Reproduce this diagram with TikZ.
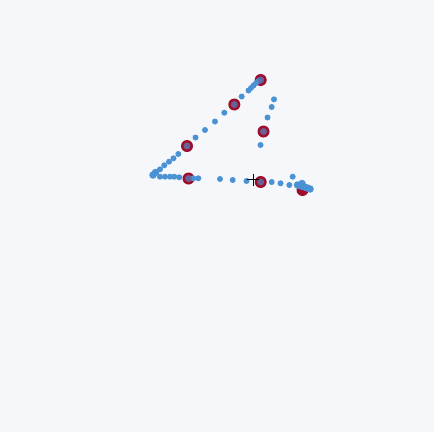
\documentclass[tikz,border=0pt]{standalone}
\usetikzlibrary{positioning}
\definecolor{bgpaper}{RGB}{245,247,251}
\definecolor{dotblue}{RGB}{74,146,212}
\definecolor{markred}{RGB}{158,14,44}
\tikzset{
  dot/.style={
    circle,
    fill=dotblue,
    inner sep=0pt,
    minimum size=6pt
  },
  blobdot/.style={dot, minimum size=7.5pt},
  redmark/.style={
    circle,
    fill=markred,
    inner sep=0pt,
    minimum size=12pt
  },
  markcore/.style={circle, fill=dotblue!75!markred, fill opacity=0.85, inner sep=0pt, minimum size=7pt},
  cursor/.style={black, line width=0.7pt}
}

\begin{document}
\begin{tikzpicture}[x=1pt, y=-1pt]

  \useasboundingbox[fill=bgpaper] (0,0) rectangle (434,432);

  % -------------------------------------------------------------------
  % red marks
  % -------------------------------------------------------------------
  \node[redmark] (r1) at (260.7,80) {};
  \node[redmark] (r2) at (234.3,104.5) {};
  \node[redmark] (r3) at (187,146) {};
  \node[redmark] (r4) at (263.5,131.5) {};
  \node[redmark] (r5) at (188.5,178.5) {};
  \node[redmark] (r6) at (260.7,182) {};
  \node[redmark] (r7) at (302.5,190) {};

  % -------------------------------------------------------------------
  % diagonal stroke
  % -------------------------------------------------------------------
  \node[blobdot] (a1) at (153,175) {};
  \node[blobdot] (a2) at (155.5,172.5) {};
  \node[dot] (a3) at (160,169.3) {};
  \node[dot] (a4) at (164.3,165.3) {};
  \node[dot] (a5) at (169,161.7) {};
  \node[dot] (a6) at (173.5,158.3) {};
  \node[dot] (a7) at (178.3,154) {};
  \node[dot] (a8) at (195.5,137.5) {};
  \node[dot] (a9) at (205,130) {};
  \node[dot] (a10) at (215,121.5) {};
  \node[dot] (a11) at (224.3,112.7) {};
  \node[dot] (a12) at (241.7,96.5) {};
  \node[dot] (a13) at (248.5,90.5) {};
  \node[dot] (a14) at (251,88) {};
  \node[dot] (a15) at (253.5,85.5) {};
  \node[dot] (a16) at (256,83) {};
  \node[dot] (a17) at (258.5,81) {};

  % -------------------------------------------------------------------
  % vertical stroke
  % -------------------------------------------------------------------
  \node[dot] (v1) at (274,99.3) {};
  \node[dot] (v2) at (271.7,107) {};
  \node[dot] (v3) at (267.5,117.5) {};
  \node[dot] (v4) at (260.5,145) {};

  % -------------------------------------------------------------------
  % horizontal stroke
  % -------------------------------------------------------------------
  \node[dot] (h1) at (160,176.7) {};
  \node[dot] (h2) at (165,176.7) {};
  \node[dot] (h3) at (170,176.7) {};
  \node[dot] (h4) at (174.3,176.7) {};
  \node[dot] (h5) at (179.3,177.3) {};
  \node[dot] (h6) at (193.3,178.3) {};
  \node[dot] (h7) at (198.3,178.3) {};
  \node[dot] (h8) at (220,179) {};
  \node[dot] (h9) at (232.7,180) {};
  \node[dot] (h10) at (246.5,181) {};
  \node[dot] (h11) at (271.7,182) {};
  \node[dot] (h12) at (280.5,183.3) {};
  \node[dot] (h13) at (289.3,185) {};
  \node[dot] (h14) at (292.7,176.7) {};
  \node[blobdot] (h15) at (297.5,185) {};
  \node[blobdot] (h16) at (301,186) {};
  \node[blobdot] (h17) at (304.5,187) {};
  \node[blobdot] (h18) at (307.5,188) {};
  \node[blobdot] (h19) at (310,189) {};
  \node[blobdot] (h20) at (302,183.5) {};

  % -------------------------------------------------------------------
  % blue cores on the red marks
  % -------------------------------------------------------------------
  \node[markcore] (c1) at (r1) {};
  \node[markcore] (c2) at (r2) {};
  \node[markcore] (c3) at (r3) {};
  \node[markcore] (c4) at (r4) {};
  \node[markcore] (c5) at (r5) {};
  \node[markcore] (c6) at (r6) {};

  % -------------------------------------------------------------------
  % cursor
  % -------------------------------------------------------------------
  \coordinate (cur) at (253,179.5);
  \draw[cursor] (cur) ++(-6,0) -- ++(12,0);
  \draw[cursor] (cur) ++(0,-6) -- ++(0,12);

\end{tikzpicture}
\end{document}
